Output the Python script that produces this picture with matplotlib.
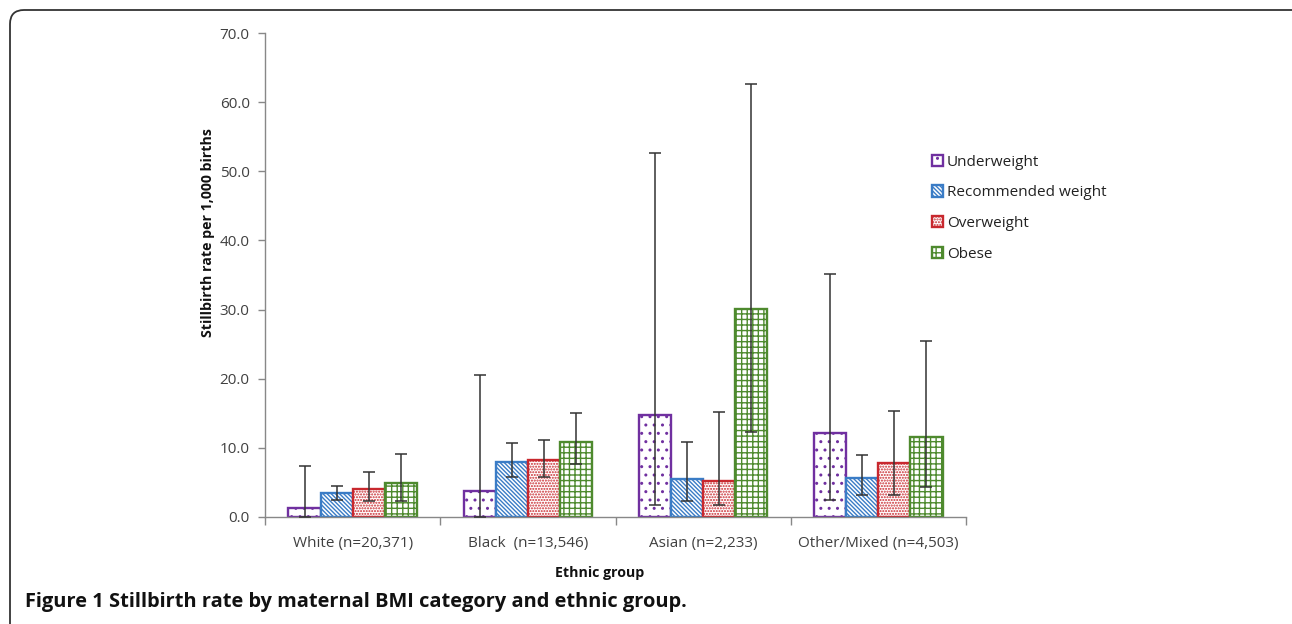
import numpy as np
import matplotlib
matplotlib.use("Agg")
import matplotlib.pyplot as plt
from matplotlib.patches import FancyBboxPatch
from matplotlib.transforms import IdentityTransform

plt.rcParams['font.family'] = ['Open Sans', 'DejaVu Sans']
plt.rcParams['hatch.linewidth'] = 1.0

groups = ["White (n=20,371)", "Black  (n=13,546)", "Asian (n=2,233)", "Other/Mixed (n=4,503)"]
series = ["Underweight", "Recommended weight", "Overweight", "Obese"]

underweight = [1.3, 3.7, 14.8, 12.1]
underweight_lo = [0.0, 0.0, 1.7, 2.4]
underweight_hi = [7.4, 20.5, 52.7, 35.1]

recommended = [3.5, 8.0, 5.5, 5.6]
recommended_lo = [2.5, 5.8, 2.3, 3.2]
recommended_hi = [4.5, 10.7, 10.9, 9.0]

overweight = [4.1, 8.2, 5.2, 7.8]
overweight_lo = [2.3, 5.8, 1.7, 3.2]
overweight_hi = [6.5, 11.2, 15.2, 15.4]

obese = [4.9, 10.8, 30.1, 11.6]
obese_lo = [2.3, 7.6, 12.3, 4.4]
obese_hi = [9.1, 15.0, 62.6, 25.4]

yticks = [0, 10, 20, 30, 40, 50, 60, 70]

values = [underweight, recommended, overweight, obese]
lows = [underweight_lo, recommended_lo, overweight_lo, obese_lo]
highs = [underweight_hi, recommended_hi, overweight_hi, obese_hi]
colors = ["#7030A0", "#3A7CC6", "#C8282E", "#4E8A2E"]
hatches = ["..", "\\" * 8, "......", "+++"]

fig = plt.figure(figsize=(12.92, 6.24), dpi=100)
ax = fig.add_axes([265/1292, 1-517/624, (966-265)/1292, (517-33)/624])

x = np.arange(len(groups))
w = 0.183
for i in range(4):
    pos = x + (i - 1.5) * w
    v = np.array(values[i])
    lo = np.array(lows[i])
    hi = np.array(highs[i])
    ax.bar(pos, v, width=w, facecolor="white", edgecolor=colors[i], hatch=hatches[i],
           linewidth=1.7, label=series[i], zorder=2)
    ax.errorbar(pos, v, yerr=[v - lo, hi - v], fmt="none", ecolor="#333333",
                elinewidth=1.1, capsize=4, capthick=1.1, zorder=3)

ax.set_xlim(-0.5, len(groups) - 0.5)
ax.set_ylim(0, 70)
ax.set_yticks(yticks)
ax.set_yticklabels([f"{t:.1f}" for t in yticks], fontsize=11, color="#404040")
ax.set_xticks(x)
ax.set_xticklabels(groups, fontsize=11, color="#404040")
ax.tick_params(axis="x", length=0, pad=14)
ax.set_xticks(np.arange(len(groups) + 1) - 0.5, minor=True)
ax.tick_params(axis="x", which="minor", length=6, color="#888888", width=1)
ax.tick_params(axis="y", length=5, color="#888888", width=1, pad=6)
for s in ["top", "right"]:
    ax.spines[s].set_visible(False)
for s in ["left", "bottom"]:
    ax.spines[s].set_color("#888888")
    ax.spines[s].set_linewidth(1)

fig.text(208/1292, 1-233/624, "Stillbirth rate per 1,000 births", rotation=90,
         ha="center", va="center", fontsize=10.2, fontweight="bold", color="#111111")
fig.text(600/1292, 1-573/624, "Ethnic group", ha="center", va="center",
         fontsize=10.2, fontweight="bold", color="#111111")

leg = fig.legend(loc="upper left", bbox_to_anchor=(924/1292, 1-147/624), frameon=False,
                 fontsize=11, handlelength=0.75, handleheight=0.75, handletextpad=0.25,
                 labelspacing=1.03, borderpad=0)
for t in leg.get_texts():
    t.set_color("#222222")

fig.text(25/1292, 1-602/624, "Figure 1 Stillbirth rate by maternal BMI category and ethnic group.",
         ha="left", va="center", fontsize=14.4, fontweight="bold", color="#111111")

box = FancyBboxPatch((10, -30), 1300, 624 - 10 + 30,
                     boxstyle="round,pad=0,rounding_size=14", transform=IdentityTransform(),
                     facecolor="none", edgecolor="#333333", linewidth=1.3)
fig.patches.append(box)

fig.savefig("out.png", dpi=100)
